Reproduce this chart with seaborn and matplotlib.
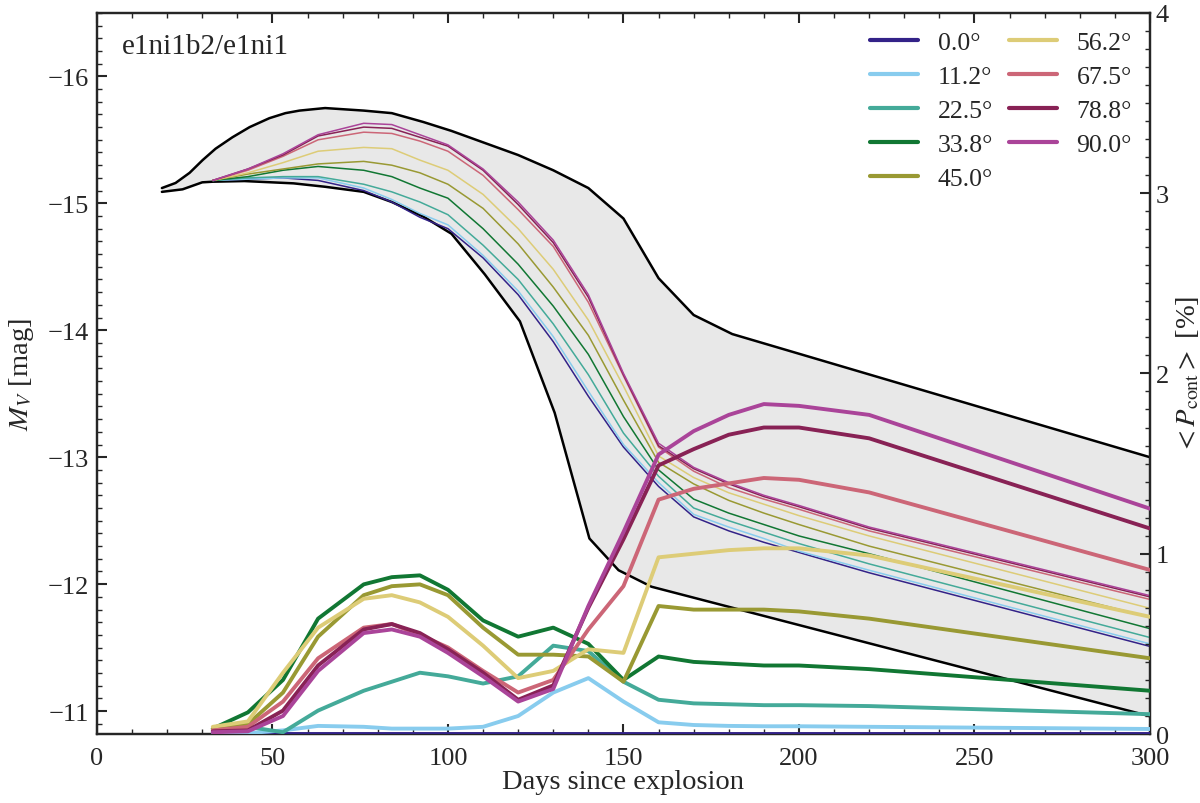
import numpy as np
import pandas as pd
import matplotlib
matplotlib.use("Agg")
import matplotlib.pyplot as plt
import seaborn as sns
from matplotlib.ticker import MultipleLocator

# ---------------- data ----------------
angles = ["0.0°", "11.2°", "22.5°", "33.8°", "45.0°", "56.2°", "67.5°", "78.8°", "90.0°"]
colors = ["#332288", "#88CCEE", "#44AA99", "#117733", "#999933",
          "#DDCC77", "#CC6677", "#882255", "#AA4499"]

days = [33, 43, 53, 63, 76, 84, 92, 100, 110, 120, 130, 140, 150, 160, 170, 180, 190, 200, 220, 300]

mv_00 = [-15.18, -15.19, -15.20, -15.18, -15.10, -15.01, -14.89, -14.80, -14.57, -14.28, -13.91, -13.48, -13.08, -12.77, -12.53, -12.42, -12.33, -12.25, -12.09, -11.51]
mv_11 = [-15.18, -15.19, -15.20, -15.20, -15.12, -15.03, -14.92, -14.83, -14.59, -14.31, -13.95, -13.52, -13.10, -12.80, -12.55, -12.45, -12.36, -12.26, -12.11, -11.53]
mv_22 = [-15.18, -15.20, -15.21, -15.21, -15.15, -15.09, -15.01, -14.91, -14.67, -14.40, -14.05, -13.65, -13.19, -12.85, -12.60, -12.50, -12.41, -12.32, -12.16, -11.58]
mv_33 = [-15.18, -15.21, -15.26, -15.29, -15.26, -15.21, -15.12, -15.04, -14.80, -14.52, -14.19, -13.81, -13.32, -12.90, -12.67, -12.56, -12.47, -12.38, -12.24, -11.65]
mv_45 = [-15.18, -15.23, -15.27, -15.31, -15.33, -15.30, -15.24, -15.15, -14.96, -14.68, -14.34, -13.96, -13.45, -12.96, -12.79, -12.66, -12.56, -12.47, -12.30, -11.74]
mv_56 = [-15.18, -15.24, -15.32, -15.41, -15.44, -15.43, -15.34, -15.26, -15.07, -14.80, -14.48, -14.08, -13.56, -13.01, -12.84, -12.72, -12.63, -12.54, -12.38, -11.81]
mv_67 = [-15.18, -15.26, -15.37, -15.50, -15.56, -15.55, -15.49, -15.41, -15.22, -14.95, -14.66, -14.22, -13.64, -13.08, -12.89, -12.76, -12.67, -12.59, -12.42, -11.88]
mv_78 = [-15.18, -15.27, -15.38, -15.53, -15.60, -15.59, -15.52, -15.45, -15.26, -14.99, -14.69, -14.26, -13.65, -13.09, -12.91, -12.79, -12.69, -12.61, -12.44, -11.90]
mv_90 = [-15.18, -15.27, -15.39, -15.54, -15.63, -15.62, -15.54, -15.46, -15.27, -15.01, -14.71, -14.28, -13.66, -13.11, -12.92, -12.80, -12.70, -12.62, -12.45, -11.91]

p_00 = [0.0] * 20
p_11 = [0.01, 0.005, 0.02, 0.045, 0.04, 0.03, 0.03, 0.03, 0.04, 0.10, 0.23, 0.31, 0.18, 0.065, 0.05, 0.045, 0.043, 0.043, 0.04, 0.028]
p_22 = [0.03, 0.04, 0.01, 0.13, 0.24, 0.29, 0.34, 0.32, 0.28, 0.32, 0.49, 0.46, 0.29, 0.19, 0.17, 0.165, 0.16, 0.16, 0.155, 0.11]
p_33 = [0.03, 0.12, 0.30, 0.64, 0.83, 0.87, 0.88, 0.80, 0.63, 0.54, 0.59, 0.50, 0.30, 0.43, 0.40, 0.39, 0.38, 0.38, 0.36, 0.24]
p_45 = [0.03, 0.055, 0.23, 0.54, 0.77, 0.82, 0.83, 0.77, 0.59, 0.44, 0.44, 0.43, 0.29, 0.71, 0.69, 0.69, 0.69, 0.68, 0.64, 0.42]
p_56 = [0.04, 0.07, 0.34, 0.59, 0.75, 0.77, 0.73, 0.65, 0.49, 0.31, 0.35, 0.47, 0.45, 0.98, 1.00, 1.02, 1.03, 1.03, 0.99, 0.65]
p_67 = [0.02, 0.04, 0.18, 0.42, 0.59, 0.61, 0.55, 0.48, 0.35, 0.23, 0.30, 0.58, 0.82, 1.30, 1.36, 1.39, 1.42, 1.41, 1.34, 0.91]
p_78 = [0.015, 0.02, 0.13, 0.38, 0.58, 0.61, 0.56, 0.47, 0.34, 0.19, 0.27, 0.70, 1.08, 1.49, 1.58, 1.66, 1.70, 1.70, 1.64, 1.14]
p_90 = [0.01, 0.015, 0.10, 0.35, 0.56, 0.58, 0.54, 0.45, 0.32, 0.18, 0.25, 0.71, 1.12, 1.55, 1.68, 1.77, 1.83, 1.82, 1.77, 1.25]

band_up_days = [18.5, 22.4, 26.4, 30.1, 33.8, 38.6, 43.5, 49.1, 53.7, 57.7, 65, 76, 84, 93, 101, 112,
                120, 130, 140, 150, 160, 170, 181, 300]
band_up_mag = [-15.12, -15.16, -15.24, -15.34, -15.43, -15.52, -15.60, -15.67, -15.71, -15.73, -15.75, -15.73,
               -15.71, -15.64, -15.57, -15.46, -15.38, -15.26, -15.12, -14.88, -14.41, -14.12, -13.97, -13.00]
band_lo_days = [18.5, 24.4, 30, 33, 42, 56, 65, 76, 84, 93, 101, 110.5, 120.5, 130.4, 140.3, 148.6, 158, 300]
band_lo_mag = [-15.09, -15.11, -15.165, -15.17, -15.175, -15.157, -15.13, -15.09, -15.01, -14.895, -14.76,
               -14.44, -14.07, -13.35, -12.36, -12.11, -11.98, -10.96]

mv_all = [mv_00, mv_11, mv_22, mv_33, mv_45, mv_56, mv_67, mv_78, mv_90]
p_all = [p_00, p_11, p_22, p_33, p_45, p_56, p_67, p_78, p_90]

# ---------------- style ----------------
sns.set_theme(style="ticks")
plt.rcParams["font.family"] = ["Liberation Serif", "DejaVu Serif"]
plt.rcParams["mathtext.fontset"] = "stix"
plt.rcParams["axes.linewidth"] = 1.6
FS = 19      # tick labels
FL = 20.5    # axis labels

fig = plt.figure(figsize=(12, 8.04), dpi=100)
ax = fig.add_axes([0.0808, 0.0858, 0.8775, 0.897])
ax2 = ax.twinx()

# gray band
poly_x = np.concatenate([band_up_days, band_lo_days[::-1]])
poly_y = np.concatenate([band_up_mag, band_lo_mag[::-1]])
ax.fill(poly_x, poly_y, color="#e8e8e8", lw=0, zorder=1)
sns.lineplot(x=band_up_days, y=band_up_mag, ax=ax, color="black", lw=1.8, sort=False, zorder=2)
sns.lineplot(x=band_lo_days, y=band_lo_mag, ax=ax, color="black", lw=1.8, sort=False, zorder=2)

# thin M_V curves
for mv, c in zip(mv_all, colors):
    sns.lineplot(x=days, y=mv, ax=ax, color=c, lw=1.1, zorder=3)

# thick polarisation curves
for p, c, lab in zip(p_all, colors, angles):
    sns.lineplot(x=days, y=p, ax=ax2, color=c, lw=2.8, label=lab, zorder=3)

ax.set_xlim(0, 300)
ax.set_ylim(-10.82, -16.5)
ax2.set_ylim(0, 4)

ax.xaxis.set_major_locator(MultipleLocator(50))
ax.xaxis.set_minor_locator(MultipleLocator(10))
ax.yaxis.set_major_locator(MultipleLocator(1))
ax.yaxis.set_minor_locator(MultipleLocator(0.1))
ax2.yaxis.set_major_locator(MultipleLocator(1))
ax2.yaxis.set_minor_locator(MultipleLocator(0.1))

ax.tick_params(axis="x", which="both", direction="in", top=True, bottom=True, labelsize=FS, pad=9)
ax.tick_params(axis="y", which="both", direction="in", left=True, right=False, labelsize=FS, pad=6)
ax.tick_params(which="major", length=7, width=1.5)
ax.tick_params(which="minor", length=3.5, width=1.0)
ax2.tick_params(axis="y", which="both", direction="in", right=True, left=False, labelsize=FS, pad=4)
ax2.tick_params(which="major", length=7, width=1.5)
ax2.tick_params(which="minor", length=3.5, width=1.0)

ax.set_xlabel("Days since explosion", fontsize=FL, labelpad=0)
ax.set_ylabel(r"$M_V$ [mag]", fontsize=FL, labelpad=8)
ax2.set_ylabel(r"$<P_{\rm cont}>$ [%]", fontsize=FL, labelpad=4)

ax.text(0.024, 0.972, "e1ni1b2/e1ni1", transform=ax.transAxes, fontsize=21, va="top", ha="left")

leg = ax2.legend(loc="upper right", ncol=2, frameon=False, fontsize=18.5,
                 handlelength=1.9, handletextpad=0.75, columnspacing=0.6,
                 labelspacing=0.43, borderaxespad=0.3)
for line in leg.get_lines():
    line.set_linewidth(3)

for sp in ax.spines.values():
    sp.set_linewidth(1.6)
for sp in ax2.spines.values():
    sp.set_linewidth(1.6)

fig.savefig("out.png", dpi=100)
